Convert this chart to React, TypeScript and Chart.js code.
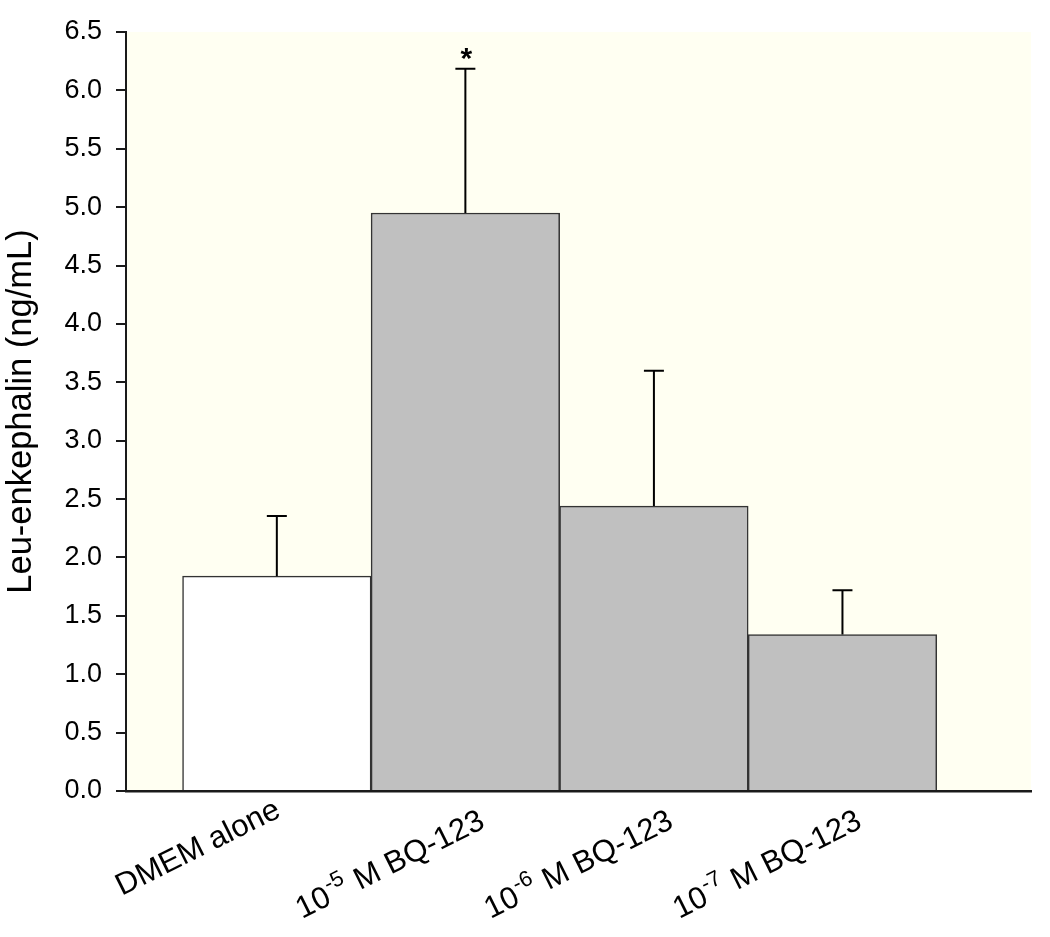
import React, { useEffect, useRef } from "react";
import { Chart, registerables } from "chart.js";

Chart.register(...registerables);

// Category labels split as [base text, superscript, trailing text]
const categoryBase: string[] = ["DMEM alone", "10", "10", "10"];
const categorySup: string[] = ["", "-5", "-6", "-7"];
const categoryRest: string[] = ["", " M BQ-123", " M BQ-123", " M BQ-123"];
const means: number[] = [1.84, 4.95, 2.44, 1.34];
const errorTops: number[] = [2.355, 6.185, 3.6, 1.72];
const significant: boolean[] = [false, true, false, false];
const barColors: string[] = ["#ffffff", "#c0c0c0", "#c0c0c0", "#c0c0c0"];
const yTickValues: number[] = [0, 0.5, 1, 1.5, 2, 2.5, 3, 3.5, 4, 4.5, 5, 5.5, 6, 6.5];
const yTitle = "Leu-enkephalin (ng/mL)";

const FONT = "'Liberation Sans', Arial, Helvetica, sans-serif";
const LABEL_SIZE = 31;
const SUP_SIZE = 22;
const LABEL_ANGLE = (26.5 * Math.PI) / 180;

const backgroundPlugin = {
  id: "plotBackground",
  beforeDraw(chart: any) {
    const { ctx, chartArea } = chart;
    ctx.save();
    ctx.fillStyle = "#fffff2";
    ctx.fillRect(chartArea.left, chartArea.top, chartArea.right - chartArea.left, chartArea.bottom - chartArea.top);
    ctx.restore();
  },
};

const categoryLabelPlugin = {
  id: "categoryLabels",
  afterDraw(chart: any) {
    const { ctx } = chart;
    const xs = chart.scales.x;
    const axisY = chart.chartArea.bottom;
    const mainFont = `${LABEL_SIZE}px ${FONT}`;
    const supFont = `${SUP_SIZE}px ${FONT}`;
    const capAscent = LABEL_SIZE * 0.72;
    ctx.save();
    ctx.fillStyle = "#000000";
    ctx.textBaseline = "alphabetic";
    ctx.textAlign = "left";
    for (let i = 0; i < categoryBase.length; i++) {
      const tickX = xs.getPixelForValue(i + 1);
      const hasSup = categorySup[i].length > 0;
      ctx.font = mainFont;
      const wBase = ctx.measureText(categoryBase[i]).width;
      const wRest = ctx.measureText(categoryRest[i]).width;
      ctx.font = supFont;
      const wSup = hasSup ? ctx.measureText(categorySup[i]).width + 2 : 0;
      const total = wBase + wSup + wRest;
      const baseline = capAscent + (hasSup ? 17 : 0);
      const endX = hasSup ? 9 : 0;
      ctx.save();
      ctx.translate(tickX - 4.6, axisY + 5);
      ctx.rotate(-LABEL_ANGLE);
      let x = endX - total;
      ctx.font = mainFont;
      ctx.fillText(categoryBase[i], x, baseline);
      x += wBase;
      if (hasSup) {
        ctx.font = supFont;
        ctx.fillText(categorySup[i], x + 1, baseline - 13);
        x += wSup;
      }
      ctx.font = mainFont;
      ctx.fillText(categoryRest[i], x, baseline);
      ctx.restore();
    }
    ctx.restore();
  },
};

const errorBarPlugin = {
  id: "errorBars",
  afterDatasetsDraw(chart: any) {
    const { ctx } = chart;
    const xs = chart.scales.x;
    const ys = chart.scales.y;
    ctx.save();
    ctx.strokeStyle = "#000000";
    ctx.lineWidth = 2;
    for (let i = 0; i < means.length; i++) {
      const cx = xs.getPixelForValue(i + 1);
      const yBar = ys.getPixelForValue(means[i]);
      const yTop = ys.getPixelForValue(errorTops[i]);
      ctx.beginPath();
      ctx.moveTo(cx, yBar);
      ctx.lineTo(cx, yTop);
      ctx.moveTo(cx - 10, yTop);
      ctx.lineTo(cx + 10, yTop);
      ctx.stroke();
      if (significant[i]) {
        ctx.fillStyle = "#000000";
        ctx.font = `bold 30px ${FONT}`;
        ctx.textAlign = "center";
        ctx.textBaseline = "alphabetic";
        ctx.fillText("*", cx + 1, yTop - 1);
      }
    }
    ctx.restore();
  },
};

export default function App() {
  const canvasRef = useRef<HTMLCanvasElement | null>(null);

  useEffect(() => {
    if (!canvasRef.current) return;
    const chart = new Chart(canvasRef.current, {
      type: "bar",
      data: {
        datasets: [
          {
            data: means.map((v, i) => ({ x: i + 1, y: v })),
            backgroundColor: barColors,
            borderColor: "#333333",
            borderWidth: 1.5,
            borderSkipped: "bottom",
            barPercentage: 1,
            categoryPercentage: 1,
          },
        ],
      },
      options: {
        animation: false,
        responsive: true,
        maintainAspectRatio: false,
        layout: { padding: { top: 32, right: 19, left: 0, bottom: 0 } },
        plugins: {
          legend: { display: false },
          tooltip: { enabled: false },
        },
        scales: {
          x: {
            type: "linear",
            min: 0.2,
            max: 5,
            offset: false,
            grid: { display: false, drawTicks: false, tickLength: 0, offset: false },
            border: { display: true, color: "#1a1a1a", width: 2.5 },
            afterBuildTicks(scale: any) {
              scale.ticks = categoryBase.map((_, i) => ({ value: i + 1 }));
            },
            afterFit(scale: any) {
              scale.height = 146;
            },
            ticks: { display: false },
          },
          y: {
            min: 0,
            max: 6.5,
            afterBuildTicks(scale: any) {
              scale.ticks = yTickValues.map((v) => ({ value: v }));
            },
            afterFit(scale: any) {
              scale.width = 126;
            },
            grid: {
              drawOnChartArea: false,
              drawTicks: true,
              tickLength: 10,
              color: "#1a1a1a",
              lineWidth: 2,
            },
            border: { display: true, color: "#1a1a1a", width: 2 },
            title: {
              display: true,
              text: yTitle,
              color: "#000000",
              font: { family: FONT, size: 34.5 },
              padding: { top: 1, bottom: 4 },
            },
            ticks: {
              padding: 14,
              color: "#000000",
              font: { family: FONT, size: 27 },
              callback: (v: any) => Number(v).toFixed(1),
            },
          },
        },
      },
      plugins: [backgroundPlugin, errorBarPlugin, categoryLabelPlugin],
    } as any);
    return () => chart.destroy();
  }, []);

  return (
    <div style={{ position: "fixed", left: 0, top: 0, width: 1050, height: 937, background: "#ffffff" }}>
      <canvas ref={canvasRef} />
    </div>
  );
}
